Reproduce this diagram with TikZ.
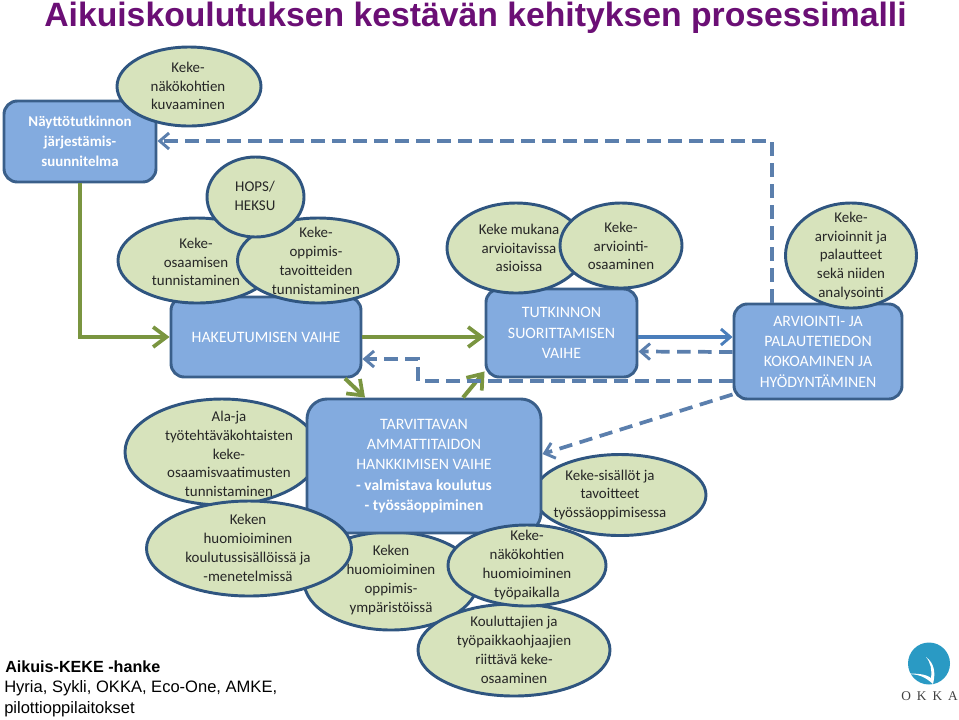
\documentclass[tikz,border=0pt]{standalone}
\usepackage{fontspec}
\setmainfont{Carlito}
\newfontfamily\headfont{Liberation Sans}
\newfontfamily\logofont{Liberation Serif}
\usetikzlibrary{shapes.geometric,arrows.meta}
\definecolor{boxfill}{HTML}{83ABDF}
\definecolor{boxline}{HTML}{3A5F8A}
\definecolor{ovalfill}{HTML}{D7E3BC}
\definecolor{ovalline}{HTML}{2F5580}
\definecolor{flowgreen}{HTML}{7A9540}
\definecolor{flowblue}{HTML}{4A7EBB}
\definecolor{backblue}{HTML}{5B7FAD}
\definecolor{titlepurple}{HTML}{6B0F75}
\definecolor{logoblue}{HTML}{2A9AC4}
\tikzset{
  phase/.style={draw=boxline,fill=boxfill,line width=2.2pt,rounded corners=10pt,
    inner sep=0pt,align=center,text=white,font=\fontsize{11.9}{15.2}\selectfont},
  oval/.style={ellipse,draw=ovalline,fill=ovalfill,line width=2.2pt,inner sep=0pt},
  ovaltext/.style={align=center,inner sep=0pt,text=black!85,font=\fontsize{11.2}{14.1}\selectfont},
  forward/.style={draw=flowgreen,line width=3pt,-{Straight Barb[length=10pt,width=15pt,line width=2.8pt]}},
  onward/.style={draw=flowblue,line width=2.4pt,-{Straight Barb[length=7pt,width=12pt,line width=2.2pt]}},
  feedback/.style={draw=backblue,line width=2.8pt,dash pattern=on 10pt off 5.75pt,
    -{Straight Barb[length=7pt,width=12pt,line width=2.2pt]}},
  plain/.style={align=left,inner sep=0pt,anchor=west,text=black,
    font=\headfont\fontsize{12.4}{15.6}\selectfont}
}
% ellipse with its caption set on top: name, x, y, width, height, text x, text y, caption
\newcommand{\ovalnode}[8]{%
  \node[oval,minimum width=#4*0.75pt,minimum height=#5*0.75pt] (#1) at (#2,#3) {};
  \node[ovaltext] (#1t) at (#6,#7) {#8};}
\begin{document}
\begin{tikzpicture}[x=0.75pt,y=-0.75pt]
\useasboundingbox (0,0) rectangle (959,719);

\node[anchor=west,inner sep=0pt,text=titlepurple,font=\headfont\bfseries\fontsize{25.3}{28}\selectfont] (title) at (44,18)
  {Aikuiskoulutuksen kestävän kehityksen prosessimalli};

% top left group
\node[phase,font=\fontsize{11.2}{15.2}\selectfont\bfseries,minimum width=152*0.75pt,minimum height=81*0.75pt] (plan) at (80,141.5)
  {Näyttötutkinnon\\järjestämis-\\suunnitelma};
\ovalnode{aspects}{189}{86.5}{144}{79}{188}{86}{Keke-\\näkökohtien\\kuvaaminen}

% application phase
\node[phase,minimum width=190*0.75pt,minimum height=80*0.75pt] (apply) at (266,337)
  {HAKEUTUMISEN VAIHE};
\ovalnode{skills}{197}{260.5}{158}{85}{196}{262}{Keke-\\osaamisen\\tunnistaminen}
\ovalnode{goals}{318}{260.5}{161}{85}{316}{261}{Keke-\\oppimis-\\tavoitteiden\\tunnistaminen}
\ovalnode{hops}{255.5}{197}{97}{80}{255}{196}{HOPS/\\HEKSU}

% completion phase
\node[phase,minimum width=151*0.75pt,minimum height=88*0.75pt] (complete) at (561.5,333)
  {TUTKINNON\\SUORITTAMISEN\\VAIHE};
\ovalnode{assess}{516}{248}{138}{90}{519}{248}{Keke mukana\\arvioitavissa\\asioissa}
\ovalnode{assesskill}{621}{245.5}{122}{85}{621}{246}{Keke-\\arviointi-\\osaaminen}

% evaluation phase
\node[phase,minimum width=168*0.75pt,minimum height=95*0.75pt] (evaluate) at (818,351.5)
  {ARVIOINTI- JA\\PALAUTETIEDON\\KOKOAMINEN JA\\HYÖDYNTÄMINEN};
\ovalnode{review}{851}{255.5}{131}{105}{851}{256}{Keke-\\arvioinnit ja\\palautteet\\sekä niiden\\analysointi}

% acquisition phase with its surrounding ellipses
\ovalnode{tasks}{222}{452}{194}{106}{229}{454}{Ala-ja\\työtehtäväkohtaisten\\keke-\\osaamisvaatimusten\\tunnistaminen}
\ovalnode{content}{620}{495}{172}{81}{610}{495}{Keke-sisällöt ja\\tavoitteet\\työssäoppimisessa}
\ovalnode{environment}{391}{581}{174}{98}{391}{580}{Keken\\huomioiminen\\oppimis-\\ympäristöissä}
\node[phase,rounded corners=15pt,minimum width=234*0.75pt,minimum height=134*0.75pt] (acquire) at (424,466)
  {TARVITTAVAN\\AMMATTITAIDON\\HANKKIMISEN VAIHE\\{\bfseries\fontsize{11.6}{15.2}\selectfont - valmistava koulutus}\\{\bfseries\fontsize{11.6}{15.2}\selectfont - työssäoppiminen}};
\ovalnode{teaching}{249}{548.5}{205}{95}{248}{548}{Keken\\huomioiminen\\koulutussisällöissä ja\\-menetelmissä}
\ovalnode{trainers}{514}{650}{192}{92}{514}{650}{Kouluttajien ja\\työpaikkaohjaajien\\riittävä keke-\\osaaminen}
\ovalnode{workplace}{527}{565.5}{158}{81}{527}{565}{Keke-\\näkökohtien\\huomioiminen\\työpaikalla}

% forward flow
\draw[forward] (plan.south) -- (plan.south |- apply.west) -- (apply.west);
\draw[forward] (apply.east) -- (complete.west |- apply.east);
\draw[forward] ([xshift=79*0.75pt]apply.south) -- ([xshift=-59*0.75pt]acquire.north);
\draw[forward] ([xshift=39*0.75pt]acquire.north) -- ([yshift=7*0.75pt]complete.south west);
\draw[onward] (complete.east |- apply.east) -- (evaluate.west |- apply.east);

% feedback flow
\draw[feedback] ([yshift=-0.5*0.75pt]evaluate.west) -- (complete.east |- evaluate.west);
\draw[feedback] ([yshift=-29.5*0.75pt]evaluate.west) -- (418,381) -- (418,359) -- ([yshift=-22*0.75pt]apply.east);
\draw[feedback] ([xshift=-46*0.75pt]evaluate.north) -- (772,141) -- ([yshift=0.5*0.75pt]plan.east);
\draw[feedback] ([yshift=6*0.75pt]evaluate.south west) -- ([yshift=12*0.75pt]acquire.east);

% footer
\node[plain] (foot) at (5,667) {\bfseries\fontsize{12.1}{15}\selectfont Aikuis-KEKE -hanke};
\node[plain,anchor=north west] (partners) at (4,680) {Hyria, Sykli, OKKA, Eco-One, AMKE,\\pilottioppilaitokset};

% logo
\node[circle,fill=logoblue,minimum size=42*0.75pt,inner sep=0pt] (logo) at (929,663.5) {};
\fill[white] (926,657) .. controls (934,663) and (936,672) .. (933,684)
  .. controls (924,676) and (918,674) .. (906,674)
  .. controls (916,673) and (926,674) .. (931,678)
  .. controls (932,670) and (931,663) .. (926,657) -- cycle;
\node[inner sep=0pt,text=black!75,font=\logofont\fontsize{10}{12}\selectfont] (okka) at (929.5,696)
  {O\hspace{4.5pt}K\hspace{4.5pt}K\hspace{4.5pt}A};
\end{tikzpicture}
\end{document}
